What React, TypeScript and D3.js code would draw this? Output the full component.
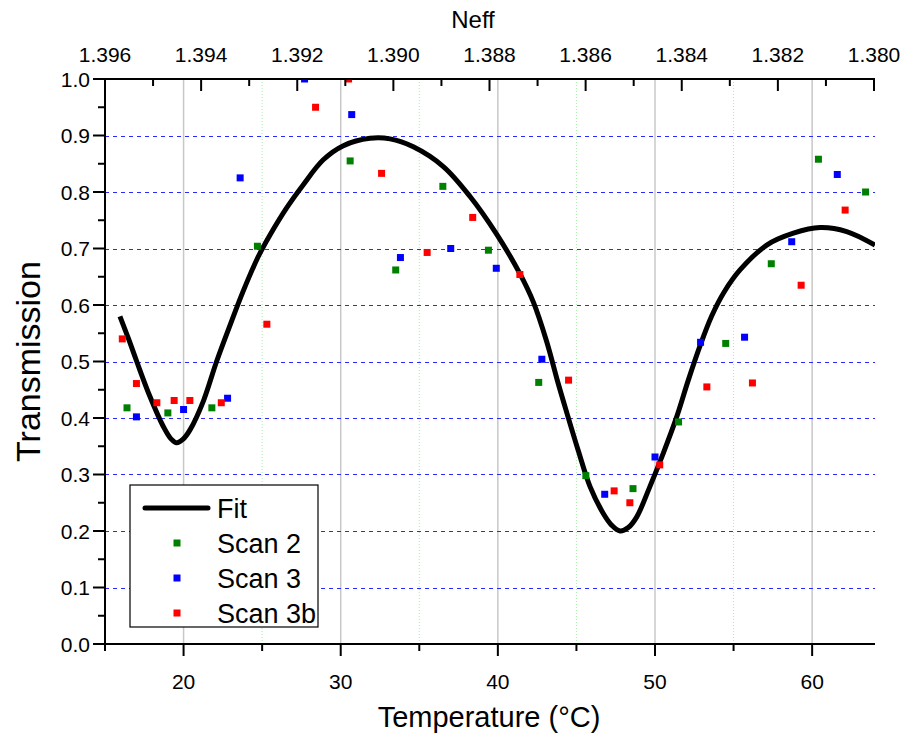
import React from "react";
import * as d3 from "d3";

const scan2T = [16.4, 19.0, 21.8, 24.7, 30.6, 33.5, 36.5, 39.4, 42.6, 45.6, 48.6, 51.5, 54.5, 57.4, 60.4, 63.4];
const scan2V = [0.418, 0.409, 0.418, 0.704, 0.855, 0.662, 0.810, 0.697, 0.463, 0.298, 0.275, 0.393, 0.532, 0.673, 0.858, 0.800];

const scan3T = [17.0, 20.0, 22.8, 23.6, 27.7, 30.7, 33.8, 37.0, 39.9, 42.8, 46.8, 50.0, 52.9, 55.7, 58.7, 61.6];
const scan3V = [0.402, 0.415, 0.435, 0.825, 1.0, 0.937, 0.684, 0.700, 0.665, 0.504, 0.265, 0.331, 0.534, 0.543, 0.712, 0.831];

const scan3bT = [16.1, 17.0, 18.3, 19.4, 20.4, 22.4, 25.3, 28.4, 30.5, 32.6, 35.5, 38.4, 41.4, 44.5, 47.4, 48.4, 50.3, 53.3, 56.2, 59.3, 62.1];
const scan3bV = [0.540, 0.461, 0.427, 0.431, 0.431, 0.427, 0.566, 0.950, 1.0, 0.833, 0.693, 0.755, 0.654, 0.467, 0.271, 0.250, 0.317, 0.455, 0.462, 0.635, 0.768];

const fitT = [15.95, 16.5, 17.02, 17.86, 18.71, 19.2, 19.56, 19.95, 20.41, 21.26, 22.1, 22.9, 23.8, 24.74, 25.5, 26.56, 27.62, 28.89, 30.17, 31.86, 33.14, 34.62, 36.53, 38.23, 39.93, 41.41, 42.26, 43.11, 43.8, 44.38, 45.12, 45.86, 46.71, 47.25, 47.77, 48.3, 48.84, 49.68, 50.53, 51.38, 52.12, 52.87, 53.6, 54.4, 55.41, 57.11, 58.81, 60.5, 62.2, 64.0];
const fitV = [0.580, 0.540, 0.500, 0.438, 0.385, 0.363, 0.356, 0.362, 0.379, 0.430, 0.500, 0.560, 0.625, 0.685, 0.724, 0.772, 0.813, 0.857, 0.882, 0.895, 0.894, 0.880, 0.845, 0.792, 0.725, 0.655, 0.605, 0.535, 0.465, 0.410, 0.342, 0.279, 0.231, 0.210, 0.200, 0.206, 0.225, 0.279, 0.338, 0.402, 0.467, 0.528, 0.580, 0.623, 0.662, 0.706, 0.727, 0.737, 0.730, 0.706];

const xTicks = [20, 30, 40, 50, 60];
const xMinor = [15, 25, 35, 45, 55];
const topTicks = [1.396, 1.394, 1.392, 1.390, 1.388, 1.386, 1.384, 1.382, 1.380];
const topMinor = [1.395, 1.393, 1.391, 1.389, 1.387, 1.385, 1.383, 1.381];
const yTicks = [0.0, 0.1, 0.2, 0.3, 0.4, 0.5, 0.6, 0.7, 0.8, 0.9, 1.0];
const yMinor = [0.05, 0.15, 0.25, 0.35, 0.45, 0.55, 0.65, 0.75, 0.85, 0.95];

const seriesNames = ["Scan 2", "Scan 3", "Scan 3b"];
const seriesColors = ["#008000", "#0000ff", "#ff0000"];

const W = 902;
const H = 735;
const L = 105, R = 875, T = 79, B = 644;
const FONT = "'Liberation Sans', Arial, sans-serif";

export default function App() {
  const x = d3.scaleLinear().domain([15, 64]).range([L, R]);
  const xTop = d3.scaleLinear().domain([1.396, 1.380]).range([L, R - 1]);
  const y = d3.scaleLinear().domain([0, 1]).range([B, T]);

  const fitData = fitT.map((t, i) => [t, fitV[i]] as [number, number]);
  const line = d3.line<[number, number]>().x(d => x(d[0])).y(d => y(d[1])).curve(d3.curveCatmullRom.alpha(0.5));

  const series = [
    scan2T.map((t, i) => [t, scan2V[i]]),
    scan3T.map((t, i) => [t, scan3V[i]]),
    scan3bT.map((t, i) => [t, scan3bV[i]]),
  ];
  const ms = 7;

  return (
    <svg width={W} height={H} style={{ position: "absolute", left: 0, top: 0, background: "#fff" }} fontFamily={FONT}>
      <defs>
        <clipPath id="plotclip">
          <rect x={L} y={T} width={R - L} height={B - T} />
        </clipPath>
      </defs>
      <rect x={0} y={0} width={W} height={H} fill="#fff" />
      {/* vertical grid */}
      {xTicks.map(t => (
        <line key={"vg" + t} x1={x(t)} x2={x(t)} y1={T} y2={B} stroke="#c8c8c8" strokeWidth={1.5} />
      ))}
      {xMinor.filter(t => t > 15).map(t => (
        <line key={"vm" + t} x1={x(t)} x2={x(t)} y1={T} y2={B} stroke="#a8eea8" strokeWidth={1} strokeDasharray="1,2" />
      ))}
      {/* horizontal grid */}
      {yTicks.filter(v => v > 0 && v < 1).map(v => (
        <line key={"hg" + v} x1={L} x2={R} y1={Math.round(y(v)) + 0.5} y2={Math.round(y(v)) + 0.5} stroke="#2a2aff" strokeWidth={1} strokeDasharray="4,4" />
      ))}
      {/* fit */}
      <path d={line(fitData) || ""} fill="none" stroke="#000" strokeWidth={5} clipPath="url(#plotclip)" />
      {/* scatter */}
      <g clipPath="url(#plotclip)">
        {series.map((s, si) =>
          s.map((d, i) => (
            <rect key={si + "-" + i} x={x(d[0]) - ms / 2} y={y(d[1]) - ms / 2} width={ms} height={ms} fill={seriesColors[si]} />
          ))
        )}
      </g>
      {/* axes */}
      <line x1={L} x2={L} y1={T - 1} y2={B + 1} stroke="#000" strokeWidth={2} />
      <line x1={L - 1} x2={R} y1={B} y2={B} stroke="#000" strokeWidth={2} />
      <line x1={L - 1} x2={R} y1={T} y2={T} stroke="#000" strokeWidth={2} />
      {/* left ticks */}
      {yTicks.map(v => (
        <g key={"yt" + v}>
          <line x1={L - 12} x2={L} y1={y(v)} y2={y(v)} stroke="#000" strokeWidth={2} />
          <text x={L - 15} y={y(v)} dy="0.36em" textAnchor="end" fontSize={21}>{v.toFixed(1)}</text>
        </g>
      ))}
      {yMinor.map(v => (
        <line key={"ym" + v} x1={L - 7} x2={L} y1={y(v)} y2={y(v)} stroke="#000" strokeWidth={2} />
      ))}
      {/* bottom ticks */}
      {xTicks.map(t => (
        <g key={"xt" + t}>
          <line x1={x(t)} x2={x(t)} y1={B} y2={B + 12} stroke="#000" strokeWidth={2} />
          <text x={x(t)} y={B + 45} textAnchor="middle" fontSize={21}>{t}</text>
        </g>
      ))}
      {xMinor.map(t => (
        <line key={"xm" + t} x1={x(t)} x2={x(t)} y1={B} y2={B + 7} stroke="#000" strokeWidth={2} />
      ))}
      {/* top ticks */}
      {topTicks.map(t => (
        <g key={"tt" + t}>
          <line x1={xTop(t)} x2={xTop(t)} y1={T} y2={T + 12} stroke="#000" strokeWidth={2} />
          <text x={xTop(t)} y={T - 17} textAnchor="middle" fontSize={21}>{t.toFixed(3)}</text>
        </g>
      ))}
      {topMinor.map(t => (
        <line key={"tm" + t} x1={xTop(t)} x2={xTop(t)} y1={T} y2={T + 7} stroke="#000" strokeWidth={2} />
      ))}
      {/* titles */}
      <text x={473} y={28} textAnchor="middle" fontSize={24}>Neff</text>
      <text x={489} y={727} textAnchor="middle" fontSize={29}>Temperature (°C)</text>
      <text transform={`translate(40, ${(T + B) / 2}) rotate(-90)`} textAnchor="middle" fontSize={34}>Transmission</text>
      {/* legend */}
      <g>
        <rect x={130} y={485} width={188} height={142} fill="#fff" stroke="#000" strokeWidth={1.2} />
        <line x1={145} x2={208} y1={508} y2={508} stroke="#000" strokeWidth={5} strokeLinecap="round" />
        <text x={217} y={518} fontSize={27}>Fit</text>
        {seriesNames.map((n, i) => (
          <g key={n}>
            <rect x={177 - ms / 2} y={543 + i * 35 - ms / 2} width={ms} height={ms} fill={seriesColors[i]} />
            <text x={217} y={553 + i * 35} fontSize={27}>{n}</text>
          </g>
        ))}
      </g>
    </svg>
  );
}
